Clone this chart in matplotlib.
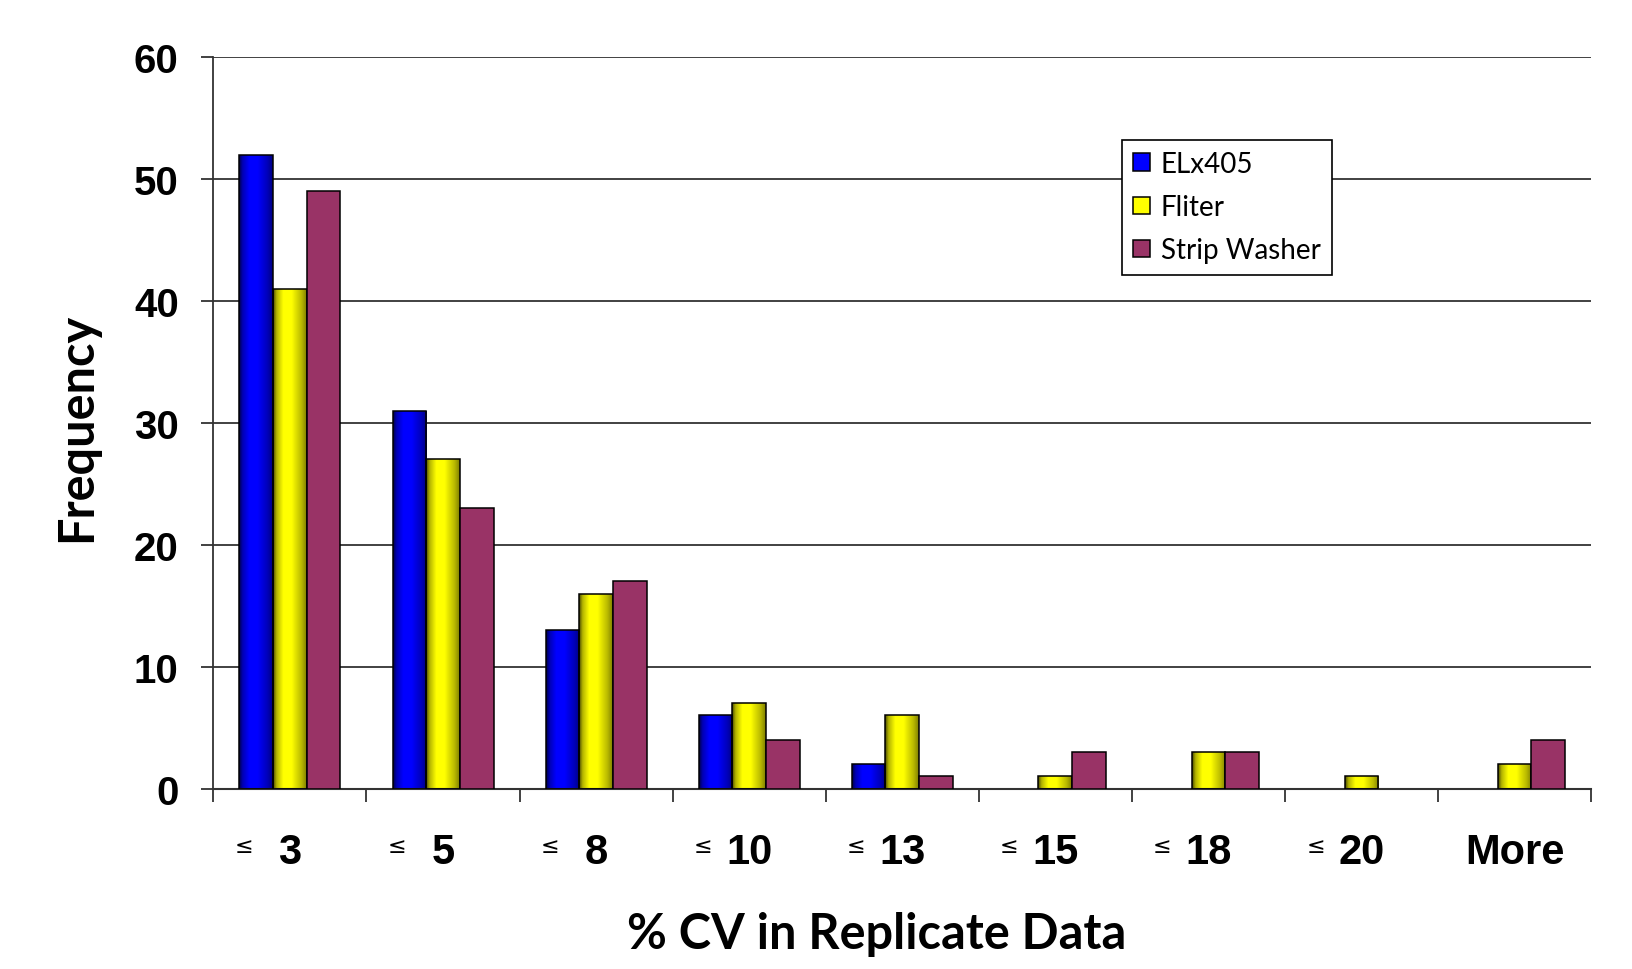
import matplotlib

matplotlib.use("Agg")

import matplotlib.pyplot as plt
import numpy as np
from matplotlib.colors import to_rgb
from matplotlib.patches import Patch
from matplotlib.transforms import blended_transform_factory

categories = ["3", "5", "8", "10", "13", "15", "18", "20", "More"]
series_names = ["ELx405", "Fliter", "Strip Washer"]
elx405 = [52, 31, 13, 6, 2, 0, 0, 0, 0]
fliter = [41, 27, 16, 7, 6, 1, 3, 1, 2]
strip_washer = [49, 23, 17, 4, 1, 3, 3, 0, 4]
y_ticks = [0, 10, 20, 30, 40, 50, 60]

series = [elx405, fliter, strip_washer]
colors = ["#0000FF", "#FFFF00", "#993366"]
shaded = [True, True, False]

grid_color = "#333333"


def cylinder_shade(base, n=64):
    # horizontal light profile: dark edges, bright band left of centre
    t = np.linspace(0, 1, n)
    f = np.interp(t, [0, 0.1, 0.3, 0.55, 0.85, 1], [0.3, 0.7, 1.0, 1.0, 0.72, 0.5])
    rgb = np.array(to_rgb(base))
    return (f[:, None] * rgb[None, :])[None, :, :]


fig = plt.figure(figsize=(16.33, 9.70), dpi=100)
ax = fig.add_axes([0.1307, 0.186, 0.8436, 0.754])

x = np.arange(len(categories))
width = 0.22

for i, (vals, name, col, shade) in enumerate(zip(series, series_names, colors, shaded)):
    pos = x + (i - 1) * width
    bars = ax.bar(pos, vals, width, color=col if not shade else "none",
                  edgecolor="black", linewidth=1.1, zorder=3, label=name)
    for bar, v in zip(bars, vals):
        if v == 0:
            bar.set_linewidth(0)
            continue
        if shade:
            x0 = bar.get_x()
            img = ax.imshow(cylinder_shade(col), extent=(x0, x0 + bar.get_width(), 0, v),
                            aspect="auto", interpolation="bilinear", zorder=2.5)
            img.set_clip_path(bar)

ax.set_xlim(-0.5, len(categories) - 0.5)
ax.set_ylim(0, 60)

ax.set_yticks(y_ticks)
ax.set_yticklabels([str(v) for v in y_ticks], fontsize=29, fontweight="bold",
                   family="Liberation Sans")
ax.set_xticks(np.arange(-0.5, len(categories), 1))
ax.set_xticklabels([])
ax.tick_params(axis="both", length=9, width=1.3, color=grid_color)
ax.tick_params(axis="y", pad=16)

ax.yaxis.grid(True, color=grid_color, linewidth=1.3)
ax.set_axisbelow(True)
for side in ("top", "right"):
    ax.spines[side].set_visible(False)
ax.spines["left"].set_color(grid_color)
ax.spines["left"].set_linewidth(1.3)
ax.spines["bottom"].set_color(grid_color)
ax.spines["bottom"].set_linewidth(1.5)

# category labels: small "<=" sign followed by the bold bin value
trans = blended_transform_factory(ax.transData, ax.transAxes)
for xi, cat in zip(x, categories):
    ax.text(xi, -0.087, cat, transform=trans, ha="center", va="center",
            fontsize=30, fontweight="bold", family="Liberation Sans")
    if cat != "More":
        ax.text(xi - 0.30, -0.078, "\u2264", transform=trans, ha="center", va="center",
                fontsize=16, family="DejaVu Sans")

ax.set_ylabel("Frequency", fontsize=35, fontweight="bold", family="Lato")
ax.yaxis.set_label_coords(-0.083, 0.4956)
ax.text(0.4817, -0.1985, "% CV in Replicate Data", transform=ax.transAxes,
        ha="center", va="center", fontsize=35, fontweight="bold", family="Lato")

handles = [Patch(facecolor=c, edgecolor="black", linewidth=1.1) for c in colors]
leg = ax.legend(handles, series_names, loc="upper left", bbox_to_anchor=(0.6494, 0.906),
                prop={"family": "Lato", "size": 20}, handlelength=0.6, handleheight=0.6,
                handletextpad=0.4, labelspacing=0.62, borderpad=0.4,
                fancybox=False, framealpha=1, edgecolor="black")
leg.get_frame().set_linewidth(1.2)
leg.set_zorder(5)

fig.savefig("out.png", dpi=100)
plt.close(fig)
